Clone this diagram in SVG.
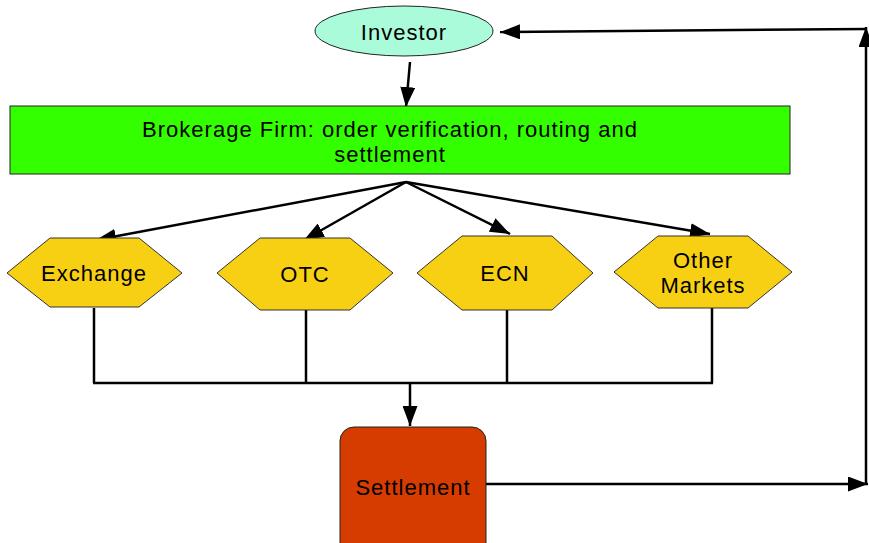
<svg xmlns="http://www.w3.org/2000/svg" width="869" height="543" viewBox="0 0 869 543">
<defs>
<style>
text{font-family:"Liberation Sans",Arial,sans-serif;font-size:22px;fill:#000;text-anchor:middle;letter-spacing:1px}
.hex{fill:#F8D013;stroke:#333;stroke-width:1}
.ln{fill:none;stroke:#000;stroke-width:2.5}
</style>
<marker id="ah" viewBox="0 0 20 15" refX="20" refY="7.5" markerWidth="20" markerHeight="15" markerUnits="userSpaceOnUse" orient="auto">
<path d="M0,0 L20,7.5 L0,15 Z" fill="#000"/>
</marker>
</defs>
<rect width="869" height="543" fill="#fff"/>
<g id="connectors">
<line class="ln" x1="410" y1="62" x2="406" y2="107" marker-end="url(#ah)"/>
<line class="ln" x1="406" y1="182" x2="96" y2="240" marker-end="url(#ah)"/>
<line class="ln" x1="406" y1="182" x2="304" y2="240" marker-end="url(#ah)"/>
<line class="ln" x1="406" y1="182" x2="510" y2="234" marker-end="url(#ah)"/>
<line class="ln" x1="406" y1="182" x2="710" y2="234" marker-end="url(#ah)"/>
<line class="ln" x1="94" y1="308" x2="94" y2="383"/>
<line class="ln" x1="306" y1="310" x2="306" y2="383"/>
<line class="ln" x1="507" y1="310" x2="507" y2="383"/>
<line class="ln" x1="712" y1="308" x2="712" y2="383"/>
<line class="ln" x1="93" y1="383" x2="713" y2="383"/>
<line class="ln" x1="410" y1="383" x2="410" y2="426" marker-end="url(#ah)"/>
<line class="ln" x1="486" y1="484" x2="868" y2="484" marker-end="url(#ah)"/>
<line class="ln" x1="866" y1="484" x2="866" y2="27" marker-end="url(#ah)"/>
<line class="ln" x1="867" y1="29" x2="500" y2="32" marker-end="url(#ah)"/>
</g>
<g id="investor">
<ellipse cx="404" cy="31" rx="89" ry="25" fill="#A9FBD9" stroke="#222" stroke-width="1"/>
<text x="404" y="40">Investor</text>
</g>
<g id="brokerage">
<rect x="10" y="106" width="780" height="68" fill="#33FF00" stroke="#222" stroke-width="1"/>
<text x="390" y="137">Brokerage Firm: order verification, routing and</text>
<text x="390" y="162">settlement</text>
</g>
<g id="exchange">
<polygon class="hex" points="7,273 50,238 139,238 182,273 139,307 50,307"/>
<text x="94" y="281">Exchange</text>
</g>
<g id="otc">
<polygon class="hex" points="217,273 260,238 350,238 393,273 350,310 260,310"/>
<text x="305" y="282">OTC</text>
</g>
<g id="ecn">
<polygon class="hex" points="417,273 462,236 552,236 593,273 552,310 462,310"/>
<text x="505" y="281">ECN</text>
</g>
<g id="other">
<polygon class="hex" points="614,272 658,236 748,236 792,272 748,308 658,308"/>
<text x="703" y="268">Other</text>
<text x="703" y="293">Markets</text>
</g>
<g id="settlement">
<rect x="340" y="427" width="146" height="130" rx="14" fill="#D63C00" stroke="#222" stroke-width="1"/>
<text x="413" y="495">Settlement</text>
</g>
</svg>
